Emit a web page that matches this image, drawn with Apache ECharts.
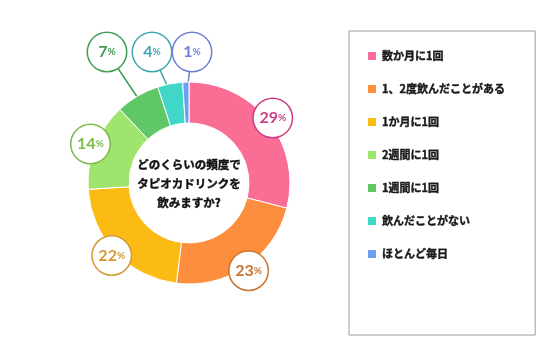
<!DOCTYPE html>
<html>
<head>
<meta charset="utf-8">
<script src="https://cdn.jsdelivr.net/npm/echarts@6/dist/echarts.min.js"></script>
<style>html,body{margin:0;padding:0;background:#fff}#c{width:557px;height:364px}</style>
</head>
<body>
<div id="c"></div>
<script>
const categories = ['数か月に1回','1、2度飲んだことがある','1か月に1回','2週間に1回','1週間に1回','飲んだことがない','ほとんど毎日'];
const values = [29, 23, 22, 14, 7, 4, 1];
const sliceColors = ['#fa6e96', '#fd8e3e', '#fcbb14', '#9fe46c', '#5fc766', '#40d7c8', '#6f9ff2'];
const labelColors = ['#cc3f86', '#c97430', '#d39a36', '#7db84a', '#3f9c55', '#3fa8b2', '#6f80da'];
const centerText = 'どのくらいの頻度で\nタピオカドリンクを\n飲みますか?';

const CX = 189, CY = 183, R0 = 60, R1 = 101;
const BIG_R = 106, BUB = 19;
const SMALL_Y = 52, SMALL_DX = [-82, -37, 3];
const total = values.reduce((a, b) => a + b, 0);
const midAngles = [];
{ let acc = 0; values.forEach(v => { midAngles.push((acc + v / 2) / total * 2 * Math.PI); acc += v; }); }

const font = '"Noto Sans CJK JP", "Noto Sans", sans-serif';
const chart = echarts.init(document.getElementById('c'), null, {renderer: 'canvas'});
let smallIdx = 0;
const smallMap = {};
values.forEach((v, i) => { if (v < 10) smallMap[i] = smallIdx++; });

chart.setOption({
  animation: false,
  legend: {
    orient: 'vertical', left: 349, top: 31,
    padding: [19, 30, 75, 17],
    borderColor: '#9a9a9a', borderWidth: 1,
    itemWidth: 10, itemHeight: 10, itemGap: 21,
    icon: 'rect',
    data: categories,
    textStyle: {fontSize: 11, fontWeight: 'bold', color: '#1a1a1a', fontFamily: font,
      textBorderColor: '#1a1a1a', textBorderWidth: 0.4}
  },
  graphic: [{
    type: 'text', x: CX, y: CY + 1, z: 10,
    style: {text: centerText, align: 'center', verticalAlign: 'middle',
      font: 'bold 11.5px ' + font, lineHeight: 19, fill: '#111',
      stroke: '#111', lineWidth: 0.4}
  }],
  series: [{
    type: 'pie',
    center: [CX, CY],
    radius: [R0, R1],
    startAngle: 90,
    clockwise: true,
    avoidLabelOverlap: false,
    itemStyle: {borderColor: '#fff', borderWidth: 1},
    label: {
      show: true, position: 'outside',
      formatter: p => '{v|' + p.value + '}{p|%}',
      backgroundColor: '#fff', borderWidth: 1.5, borderRadius: 20,
      width: 38, height: 38, padding: 0, align: 'center',
      rich: {
        v: {fontSize: 16, fontWeight: 'bold', fontFamily: 'Lato, "Noto Sans", sans-serif', lineHeight: 38},
        p: {fontSize: 10, fontWeight: 'bold', fontFamily: 'Lato, "Noto Sans", sans-serif', lineHeight: 38}
      }
    },
    labelLine: {show: true, length: 10, length2: 10, lineStyle: {width: 1.5}},
    labelLayout: function (params) {
      const i = params.dataIndex;
      const a = midAngles[i];
      if (values[i] >= 10) {
        return {x: CX + BIG_R * Math.sin(a), y: CY - BIG_R * Math.cos(a), align: 'center', verticalAlign: 'middle'};
      }
      const bx = CX + SMALL_DX[smallMap[i]], by = SMALL_Y;
      const sx = CX + 86 * Math.sin(a), sy = CY - 86 * Math.cos(a);
      const dx = sx - bx, dy = sy - by, d = Math.hypot(dx, dy);
      return {
        x: bx, y: by, align: 'center', verticalAlign: 'middle',
        labelLinePoints: [[sx, sy], [bx + dx / d * BUB, by + dy / d * BUB]]
      };
    },
    data: categories.map((name, i) => ({
      name, value: values[i],
      itemStyle: {color: sliceColors[i]},
      label: {borderColor: labelColors[i], color: labelColors[i],
        rich: {v: {color: labelColors[i]}, p: {color: labelColors[i]}}},
      labelLine: {show: values[i] < 10, lineStyle: {color: labelColors[i]}}
    }))
  }]
});
</script>
</body>
</html>
